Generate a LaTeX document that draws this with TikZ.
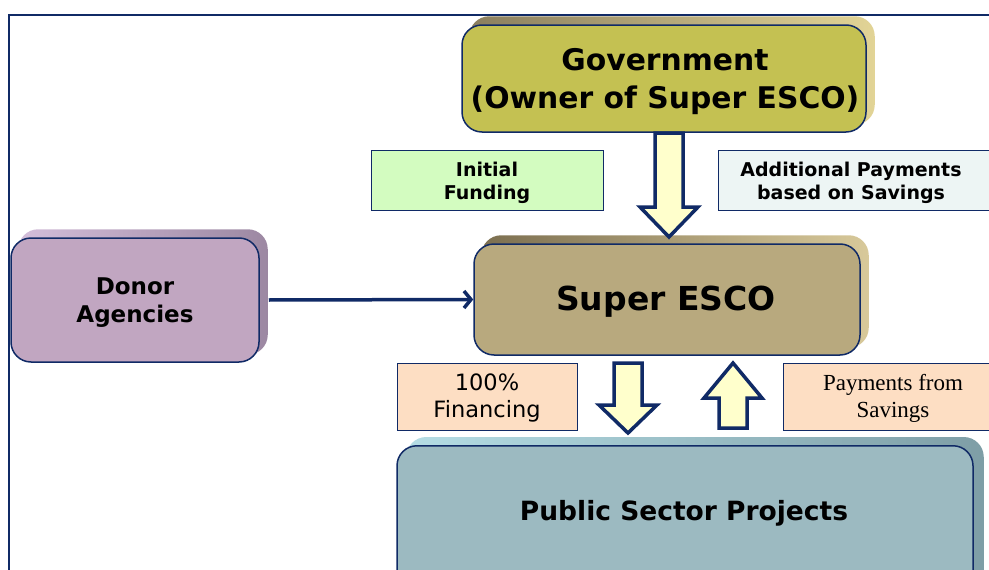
\documentclass[tikz,border=0pt]{standalone}
\usepackage{fontspec}
\setmainfont{DejaVu Sans}
\newfontfamily\serifont{Liberation Serif}
\usetikzlibrary{arrows.meta,calc,backgrounds}
\definecolor{navy}{HTML}{102A66}
\definecolor{govfill}{HTML}{C4C152}
\definecolor{govbackA}{HTML}{8A7E5E}
\definecolor{govbackB}{HTML}{E2D496}
\definecolor{escofill}{HTML}{B8A97E}
\definecolor{escobackA}{HTML}{7C6F50}
\definecolor{escobackB}{HTML}{D8C99A}
\definecolor{donorfill}{HTML}{C1A6C1}
\definecolor{donorbackA}{HTML}{D4BEDA}
\definecolor{donorbackB}{HTML}{9C88A2}
\definecolor{pubfill}{HTML}{9CBAC1}
\definecolor{pubbackA}{HTML}{B5DDE5}
\definecolor{pubbackB}{HTML}{7E9EA6}
\definecolor{greenbox}{HTML}{D3FCC0}
\definecolor{bluebox}{HTML}{EDF5F4}
\definecolor{peach}{HTML}{FDDEC3}
\definecolor{arrowfill}{HTML}{FFFFCC}
\newcommand\mydnarrow[3]{% top, apex, head length
  \draw[blk] ($(#1)+(-14,0)$) -- ($(#2)+(-14,-#3)$) -- ($(#2)+(-29,-#3)$) -- (#2)
    -- ($(#2)+(29,-#3)$) -- ($(#2)+(14,-#3)$) -- ($(#1)+(14,0)$) -- cycle;}
\newcommand\myuparrow[3]{% bottom, apex, head length
  \draw[blk] ($(#1)+(-14,0)$) -- ($(#2)+(-14,#3)$) -- ($(#2)+(-29,#3)$) -- (#2)
    -- ($(#2)+(29,#3)$) -- ($(#2)+(14,#3)$) -- ($(#1)+(14,0)$) -- cycle;}
\begin{document}
\begin{tikzpicture}[x=1pt,y=-1pt,
  mainbox/.style={draw=navy, line width=1.5pt, rounded corners=20pt, inner sep=0pt},
  txt/.style={align=center, text=black, inner sep=0pt},
  labelbox/.style={draw=navy, line width=1pt, inner sep=0pt},
  blk/.style={draw=navy, fill=arrowfill, line width=3.5pt, line join=miter},
  link/.style={draw=navy, line width=3.5pt, -{Straight Barb[length=7pt,width=17pt,line width=3.5pt]}}
]
\useasboundingbox (0,0) rectangle (989,570);

% frame
\coordinate (fbl) at (9,575);
\coordinate (ftl) at (9,15);
\coordinate (ftr) at (995,15);
\draw[navy, line width=2.5pt] (fbl) -- (ftl) -- (ftr);

% main boxes
\node[mainbox, fill=govfill, minimum width=404pt, minimum height=107pt] (gov) at (664,78.5) {};
\node[txt, font=\bfseries\fontsize{29.8}{38}\selectfont] (govtxt) at (665,82)
  {Government\\(Owner of Super ESCO)};
\node[mainbox, fill=escofill, minimum width=386pt, minimum height=111pt] (esco) at (667,299.5) {};
\node[txt, font=\bfseries\fontsize{33}{38}\selectfont] (escotxt) at (666,302) {Super ESCO};
\node[mainbox, fill=donorfill, minimum width=248pt, minimum height=124pt] (donor) at (135,300) {};
\node[txt, font=\bfseries\fontsize{23}{28}\selectfont] (donortxt) at (135,303) {Donor\\Agencies};
\node[mainbox, fill=pubfill, minimum width=576pt, minimum height=155pt, anchor=north] (pub) at (685,445) {};
\node[txt, font=\bfseries\fontsize{26.5}{30}\selectfont] (pubtxt) at (684,513) {Public Sector Projects};

% 3D backs
\begin{scope}[on background layer]
\shade[left color=govbackA, right color=govbackB, rounded corners=20pt]
  ($(gov.south west)+(8,-8)$) rectangle ($(gov.north east)+(8,-8)$);
\shade[left color=escobackA, right color=escobackB, rounded corners=20pt]
  ($(esco.south west)+(8,-8)$) rectangle ($(esco.north east)+(8,-8)$);
\shade[left color=donorbackA, right color=donorbackB, rounded corners=20pt]
  ($(donor.south west)+(8,-8)$) rectangle ($(donor.north east)+(8,-8)$);
\shade[left color=pubbackA, right color=pubbackB, rounded corners=20pt]
  ($(pub.south west)+(10,-8)$) rectangle ($(pub.north east)+(10,-8)$);
\end{scope}

% label boxes
\node[labelbox, fill=greenbox, minimum width=232pt, minimum height=60pt] (initf) at (487,180) {};
\node[txt, font=\bfseries\fontsize{19}{23}\selectfont] (initxt) at (487,182.5) {Initial\\Funding};
\node[labelbox, fill=bluebox, minimum width=276pt, minimum height=60pt] (addbox) at (856,180) {};
\node[txt, font=\bfseries\fontsize{19}{23}\selectfont] (addtxt) at (851,182.5)
  {Additional Payments\\based on Savings};
\node[labelbox, fill=peach, minimum width=180pt, minimum height=67pt] (fin) at (487,396.5) {};
\node[txt, font=\fontsize{22.5}{27}\selectfont] (fintxt) at (487,398) {100\%\\Financing};
\node[labelbox, fill=peach, minimum width=210pt, minimum height=67pt] (paybox) at (888,396.5) {};
\node[txt, font=\serifont\fontsize{23}{27}\selectfont] (paytxt) at (893,398.5)
  {Payments from\\Savings};

% block arrows
\coordinate (g1) at (669,133);
\coordinate (g2) at (669,237);
\mydnarrow{g1}{g2}{30}
\coordinate (d1) at (628,363);
\coordinate (d2) at (628,433);
\mydnarrow{d1}{d2}{28}
\coordinate (u1) at (733,428);
\coordinate (u2) at (733,363);
\myuparrow{u1}{u2}{35}

% donor link
\draw[link] ($(donor.east)+(9,0)$) -- (esco.west);
\end{tikzpicture}
\end{document}
